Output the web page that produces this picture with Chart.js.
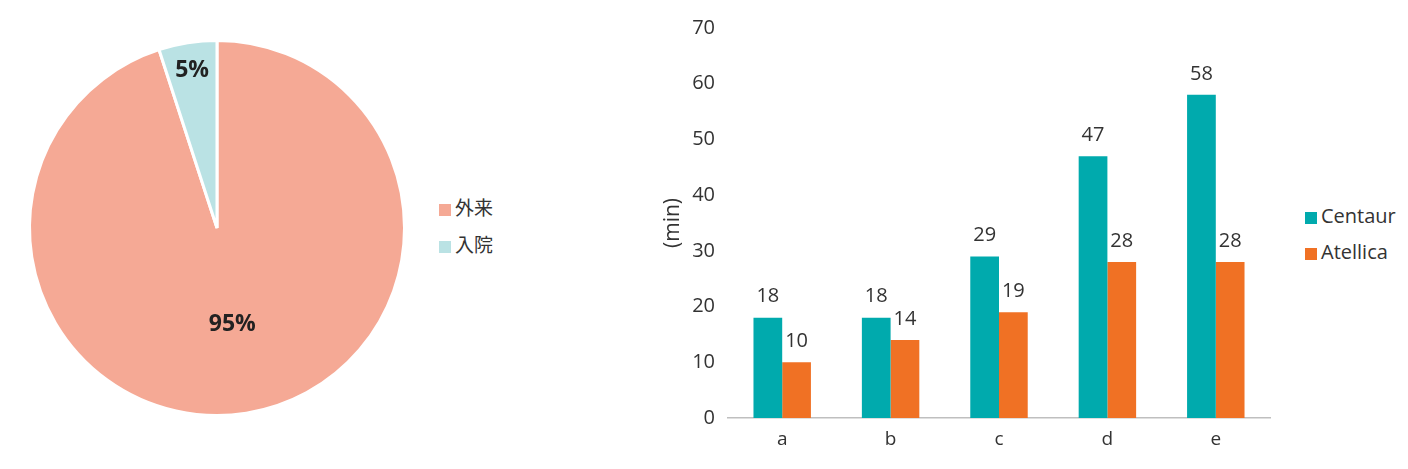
<!DOCTYPE html>
<html>
<head>
<meta charset="utf-8">
<script src="https://cdn.jsdelivr.net/npm/chart.js@4"></script>
<style>
  body { margin: 0; background: #fff; width: 1408px; height: 469px; position: relative; overflow: hidden; }
  .box { position: absolute; top: 0; height: 469px; }
  #pieBox { left: 0; width: 434px; }
  #barBox { left: 656px; width: 630px; }
  .legend { position: absolute; font-family: "Open Sans", "Noto Sans CJK JP", sans-serif; color: #333; }
  .legend div { position: absolute; white-space: nowrap; }
  .legend span.sw { display: inline-block; width: 12px; height: 12px; margin-right: 4px; vertical-align: -1px; }
</style>
</head>
<body>
<div class="box" id="pieBox"><canvas id="pieChart"></canvas></div>
<div class="box" id="barBox"><canvas id="barChart"></canvas></div>
<div class="legend" id="pieLegend"></div>
<div class="legend" id="barLegend"></div>
<script>
// pie data
const pieLabels = ['外来', '入院'];
const pieValues = [95, 5];
const pieColors = ['#F5A995', '#BAE2E4'];

// bar data
const categories = ['a', 'b', 'c', 'd', 'e'];
const centaur = [18, 18, 29, 47, 58];
const atellica = [10, 14, 19, 28, 28];
const yTicks = [0, 10, 20, 30, 40, 50, 60, 70];
const barColors = ['#00AAAD', '#F07124'];

// percent labels inside the pie
const pieLabelPlugin = {
    id: 'pieLabels',
    afterDatasetsDraw(chart, args, opts) {
        const ctx = chart.ctx;
        const meta = chart.getDatasetMeta(0);
        ctx.save();
        ctx.font = 'bold 23px "Open Sans", sans-serif';
        ctx.fillStyle = '#222';
        ctx.textAlign = 'center';
        ctx.textBaseline = 'middle';
        meta.data.forEach((arc, i) => {
            const mid = (arc.startAngle + arc.endAngle) / 2;
            const r = arc.outerRadius * opts.radius[i];
            ctx.fillText(pieValues[i] + '%', arc.x + Math.cos(mid) * r, arc.y + Math.sin(mid) * r);
        });
        ctx.restore();
    }
};

// value labels above bars
const barLabelPlugin = {
    id: 'barLabels',
    afterDatasetsDraw(chart) {
        const ctx = chart.ctx;
        ctx.save();
        ctx.font = '20px "Open Sans", sans-serif';
        ctx.fillStyle = '#333';
        ctx.textAlign = 'center';
        ctx.textBaseline = 'middle';
        chart.data.datasets.forEach((ds, di) => {
            chart.getDatasetMeta(di).data.forEach((bar, i) => {
                ctx.fillText(ds.data[i], bar.x, bar.y - 21);
            });
        });
        ctx.restore();
    }
};

new Chart(document.getElementById('pieChart'), {
    type: 'pie',
    data: {
        labels: pieLabels,
        datasets: [{
            data: pieValues,
            backgroundColor: pieColors,
            borderColor: '#fff',
            borderWidth: 3,
            hoverOffset: 0
        }]
    },
    options: {
        responsive: true,
        maintainAspectRatio: false,
        animation: false,
        layout: { padding: { top: 39, bottom: 52, left: 0, right: 0 } },
        plugins: {
            legend: { display: false },
            tooltip: { enabled: false },
            pieLabels: { radius: [0.52, 0.85] }
        }
    },
    plugins: [pieLabelPlugin]
});

new Chart(document.getElementById('barChart'), {
    type: 'bar',
    data: {
        labels: categories,
        datasets: [
            { label: 'Centaur', data: centaur, backgroundColor: barColors[0] },
            { label: 'Atellica', data: atellica, backgroundColor: barColors[1] }
        ]
    },
    options: {
        responsive: true,
        maintainAspectRatio: false,
        animation: false,
        layout: { padding: { top: 28, bottom: 10, left: 0, right: 16 } },
        datasets: { bar: { categoryPercentage: 0.53, barPercentage: 1 } },
        scales: {
            x: {
                grid: { display: true, drawOnChartArea: false, drawTicks: false },
                border: { display: true, color: '#BFBFBF', width: 1.5 },
                ticks: { color: '#333', padding: 10, font: { family: '"Open Sans", sans-serif', size: 19 } },
                afterFit: s => { s.height = 41; }
            },
            y: {
                min: 0,
                max: 70,
                afterBuildTicks: s => { s.ticks = yTicks.map(v => ({ value: v })); },
                grid: { display: false },
                border: { display: false },
                ticks: { color: '#333', padding: 5, font: { family: '"Open Sans", sans-serif', size: 20 } },
                title: {
                    display: true,
                    text: '(min)',
                    color: '#333',
                    padding: { top: 4, bottom: 4 },
                    font: { family: '"Open Sans", sans-serif', size: 21 }
                },
                afterFit: s => { s.width = 72; }
            }
        },
        plugins: {
            legend: { display: false },
            tooltip: { enabled: false }
        }
    },
    plugins: [barLabelPlugin]
});

// legends
function buildLegend(id, labels, colors, left, tops, size) {
    const el = document.getElementById(id);
    labels.forEach((t, i) => {
        const d = document.createElement('div');
        d.style.left = left + 'px';
        d.style.top = tops[i] + 'px';
        d.style.fontSize = size + 'px';
        d.innerHTML = '<span class="sw" style="background:' + colors[i] + '"></span>' + t;
        el.appendChild(d);
    });
}
buildLegend('pieLegend', pieLabels, pieColors, 439, [193, 230], 19);
buildLegend('barLegend', ['Centaur', 'Atellica'], barColors, 1305, [202, 238], 20);
</script>
</body>
</html>
